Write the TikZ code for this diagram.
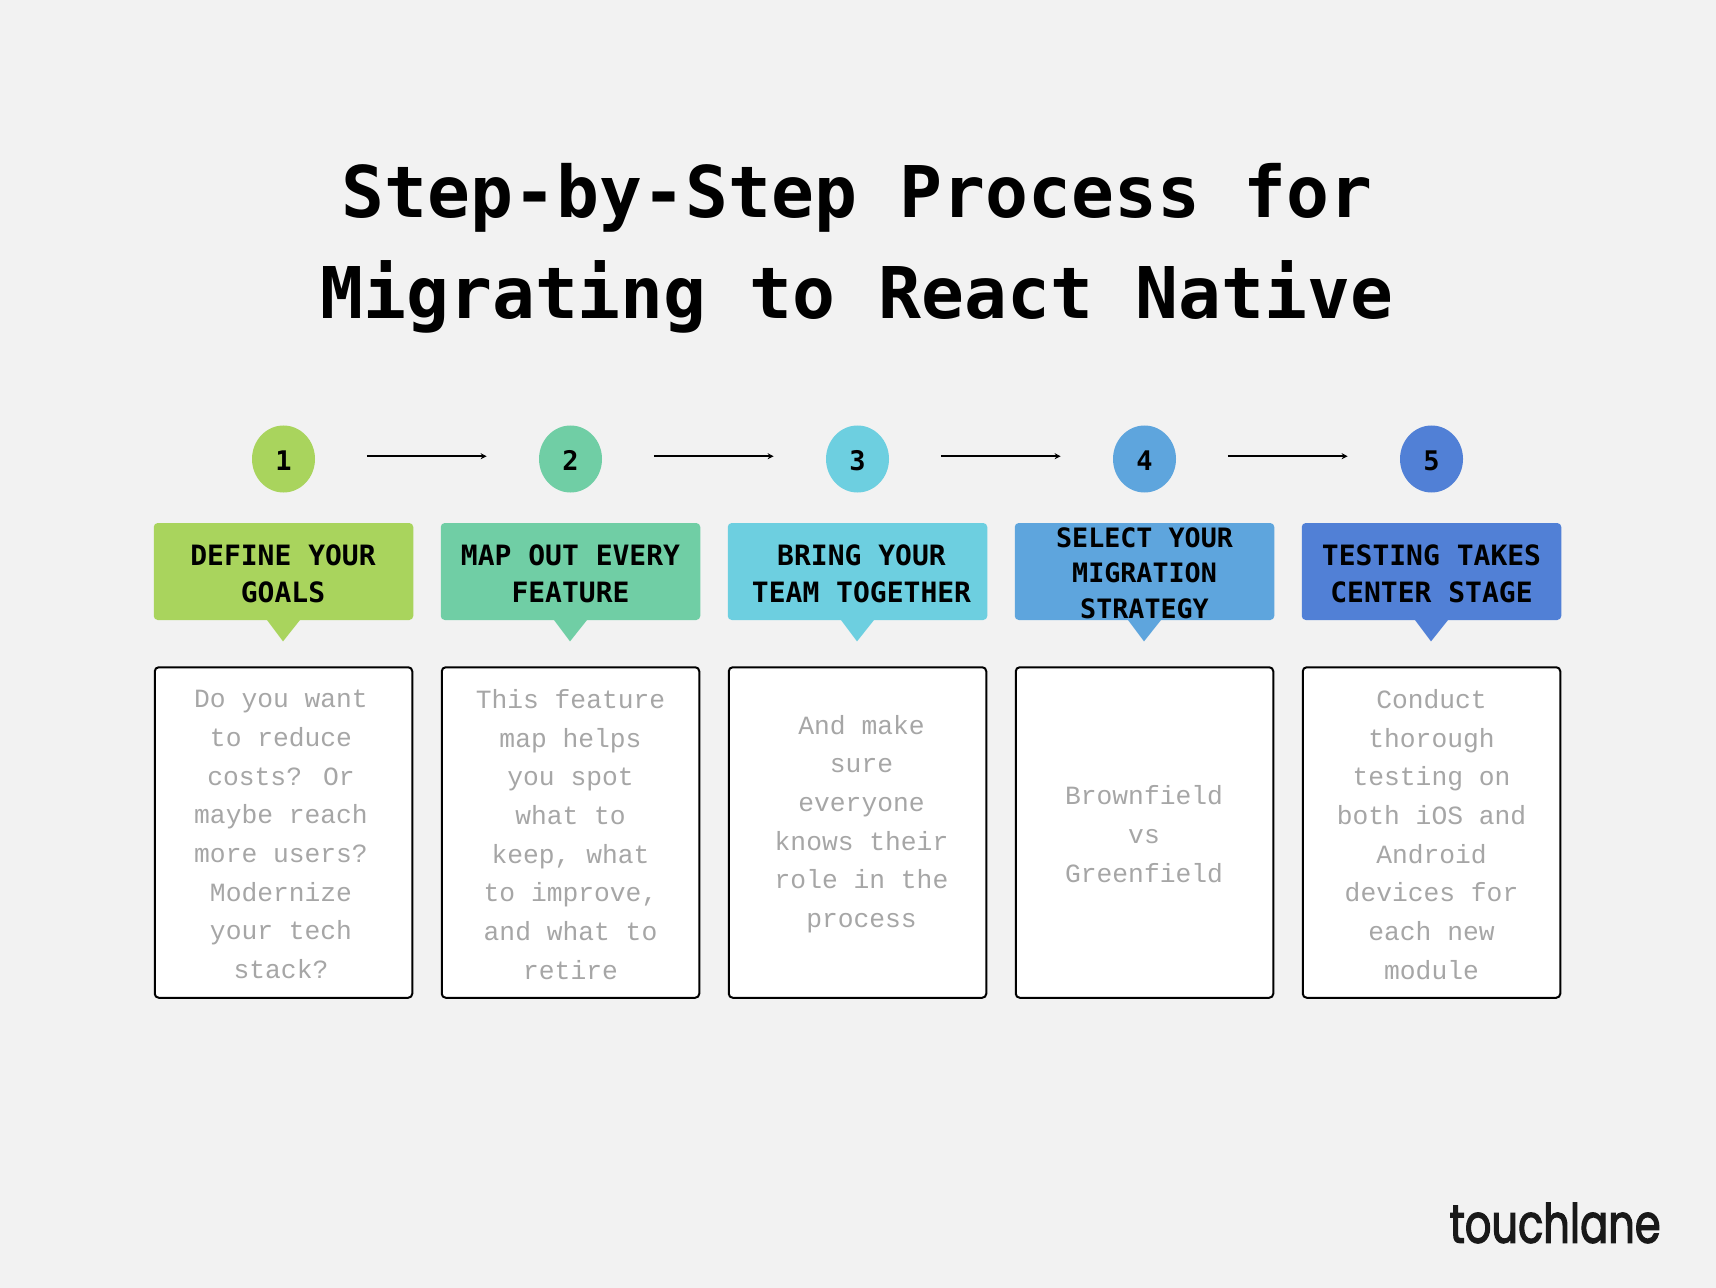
\documentclass[tikz,border=0pt]{standalone}
\usepackage{fontspec}
\usetikzlibrary{shapes.geometric,arrows.meta}
\newfontfamily\headfont{DejaVu Sans Mono}[BoldFont={DejaVu Sans Mono Bold}]
\newfontfamily\bodyfont{Liberation Mono}
\newfontfamily\logofont{Poppins}[FakeStretch=0.77,FakeBold=2.2]
\def\U{0.5pt}
\definecolor{pagebg}{HTML}{F2F2F2}
\definecolor{cA}{HTML}{A9D45D}
\definecolor{cB}{HTML}{70CEA5}
\definecolor{cC}{HTML}{6DCFE0}
\definecolor{cD}{HTML}{5EA5DD}
\definecolor{cE}{HTML}{5180D6}
\definecolor{bodygrey}{HTML}{A6A6A6}
\tikzset{
  x=0.5pt,y=-0.5pt,
  titletext/.style={font=\headfont\bfseries\fontsize{35.65pt}{50.5pt}\selectfont,align=center,text=black,inner sep=0pt},
  stepnum/.style={ellipse,minimum width=63*\U,minimum height=67*\U,inner sep=0pt,font=\headfont\bfseries\fontsize{13.5pt}{15pt}\selectfont,text=black},
  header/.style={rectangle,rounded corners=2pt,minimum width=259.5*\U,minimum height=97*\U,inner sep=0pt},
  headtext/.style={font=\headfont\bfseries\fontsize{14pt}{18.5pt}\selectfont,align=center,text=black,inner sep=0pt},
  headtextsmall/.style={font=\headfont\bfseries\fontsize{13.35pt}{17.65pt}\selectfont,align=center,text=black,inner sep=0pt},
  card/.style={rectangle,rounded corners=2pt,draw=black,line width=1pt,fill=white,minimum width=257.5*\U,minimum height=330.5*\U,inner sep=0pt},
  cardtext/.style={font=\bodyfont\fontsize{13.15pt}{19.35pt}\selectfont,align=center,text=bodygrey,inner sep=0pt},
  flow/.style={draw=black,line width=0.75pt,-{Stealth[length=3pt,width=3pt]},shorten <=51.5*\U,shorten >=52*\U},
}
\begin{document}
\begin{tikzpicture}
\useasboundingbox (0,0) rectangle (1716,1288);
\fill[pagebg] (0,0) rectangle (1716,1288);
\node[titletext] (title) at (857,248.5) {Step-by-Step Process for\\Migrating to React Native};

\foreach \n/\cx/\col in {1/283.5/cA,2/570.5/cB,3/857.5/cC,4/1144.5/cD,5/1431.5/cE}{
  \node[stepnum,fill=\col] (c\n) at (\cx,459) {\raisebox{-5.9pt}[0pt][0pt]{\n}};
  \node[card] (b\n) at (\cx,832.5) {};
  \node[header,fill=\col] (h\n) at (\cx,571.5) {};
  \fill[fill=\col] ([xshift=-17*\U,yshift=1*\U]h\n.south) -- ([xshift=17*\U,yshift=1*\U]h\n.south) -- ([xshift=-0.5*\U,yshift=-21*\U]h\n.south) -- cycle;
}
\foreach \a/\b in {1/2,2/3,3/4,4/5}{
  \draw[flow] ([yshift=1.4pt]c\a.east) -- ([yshift=1.4pt]c\b.west);
}

\node[headtext] (ht1) at (283,573.5) {DEFINE YOUR\\GOALS};
\node[headtext] (ht2) at (570.5,573.5) {MAP OUT EVERY\\FEATURE};
\node[headtext] (ht3) at (861.5,573.5) {BRING YOUR\\TEAM TOGETHER};
\node[headtextsmall] (ht4) at (1144.5,573) {SELECT YOUR\\MIGRATION\\STRATEGY};
\node[headtext] (ht5) at (1431.5,573.5) {TESTING TAKES\\CENTER STAGE};

\node[cardtext] (t1) at (281,834.5) {Do you want\\to reduce\\costs? Or\\maybe reach\\more users?\\Modernize\\your tech\\stack?};
\node[cardtext] (t2) at (570.5,834.5) {This feature\\map helps\\you spot\\what to\\keep, what\\to improve,\\and what to\\retire};
\node[cardtext] (t3) at (861.5,824) {And make\\sure\\everyone\\knows their\\role in the\\process};
\node[cardtext] (t4) at (1144,834) {Brownfield\\vs\\Greenfield};
\node[cardtext] (t5) at (1431.5,834.5) {Conduct\\thorough\\testing on\\both iOS and\\Android\\devices for\\each new\\module};

\node[font=\logofont\fontsize{27pt}{30pt}\selectfont,text=black!90,inner sep=0pt,anchor=east] (logo) at (1661,1223) {touchlane};
\end{tikzpicture}
\end{document}
